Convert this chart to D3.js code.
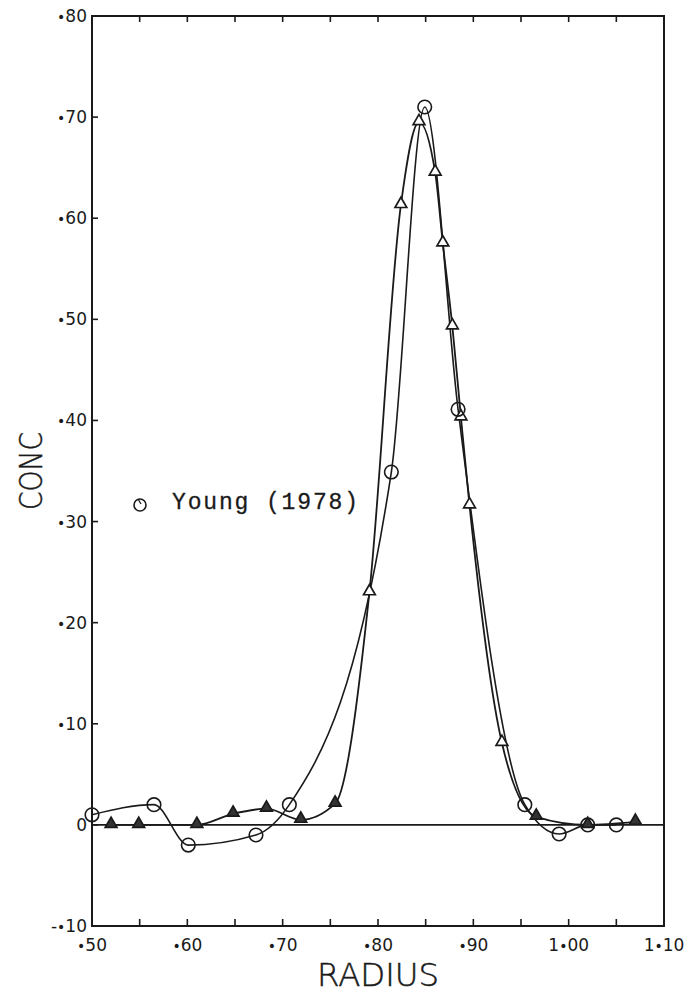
<!DOCTYPE html>
<html>
<head>
<meta charset="utf-8">
<script src="https://cdn.jsdelivr.net/npm/d3@7"></script>
<style>
  html, body { margin: 0; padding: 0; background: #fff; }
  svg { display: block; }
</style>
</head>
<body>
<svg id="chart" width="689" height="995"></svg>
<script>
// Young (1978) concentration profile (open circles)
const youngRadius = [0.500, 0.565, 0.601, 0.672, 0.707, 0.814, 0.849, 0.884, 0.954, 0.990, 1.020, 1.050];
const youngConc   = [0.010, 0.020, -0.020, -0.010, 0.020, 0.349, 0.710, 0.411, 0.020, -0.009, 0.000, 0.000];

// Computed concentration profile (triangles)
const calcRadius = [0.520, 0.549, 0.610, 0.648, 0.683, 0.719, 0.755, 0.791, 0.824, 0.843, 0.860, 0.868, 0.878, 0.887, 0.896, 0.930, 0.966, 1.020, 1.070];
const calcConc   = [0.000, 0.000, 0.000, 0.011, 0.016, 0.005, 0.021, 0.230, 0.613, 0.695, 0.645, 0.575, 0.493, 0.403, 0.316, 0.081, 0.008, 0.000, 0.003];

// Axis ticks and labels (integer part, fractional part)
const xLabelTicks = [0.5, 0.6, 0.7, 0.8, 0.9, 1.0, 1.1];
const xLabels = [["", "50"], ["", "60"], ["", "70"], ["", "80"], ["", "90"], ["1", "00"], ["1", "10"]];
const xMinorTicks = [0.55, 0.65, 0.75, 0.85, 0.95, 1.05];
const yTicks = [-0.1, 0, 0.1, 0.2, 0.3, 0.4, 0.5, 0.6, 0.7, 0.8];
const yLabels = [["-", "10"], null, ["", "10"], ["", "20"], ["", "30"], ["", "40"], ["", "50"], ["", "60"], ["", "70"], ["", "80"]];
const legendText = "Young (1978)";

const svg = d3.select("#chart");
const plotL = 92, plotR = 664, plotT = 16, plotB = 926;
const ink = "#1a1a1a";

const x = d3.scaleLinear().domain([0.5, 1.1]).range([plotL, plotR]);
const y = d3.scaleLinear().domain([-0.1, 0.8]).range([plotB, plotT]);

// Writes a plotter-style number label: integer part, centred dot, fraction
function numberLabel(sel, parts) {
  if (!parts) { sel.text("0"); return; }
  if (parts[0]) sel.append("tspan").text(parts[0]);
  sel.append("tspan").attr("font-size", 14).text("•");
  sel.append("tspan").text(parts[1]);
}

// Frame
svg.append("rect")
  .attr("x", plotL).attr("y", plotT)
  .attr("width", plotR - plotL).attr("height", plotB - plotT)
  .attr("fill", "none").attr("stroke", ink).attr("stroke-width", 2);

// Bottom ticks (pointing inward)
const allX = xLabelTicks.concat(xMinorTicks).filter(v => v > 0.5 && v < 1.1);
svg.append("g").selectAll("line").data(allX).join("line")
  .attr("x1", d => x(d)).attr("x2", d => x(d))
  .attr("y1", plotB).attr("y2", plotB - 7)
  .attr("stroke", ink).attr("stroke-width", 1.6);
// Top ticks
svg.append("g").selectAll("line").data(allX).join("line")
  .attr("x1", d => x(d)).attr("x2", d => x(d))
  .attr("y1", plotT).attr("y2", plotT + 6)
  .attr("stroke", ink).attr("stroke-width", 1.6);
// Left ticks
svg.append("g").selectAll("line").data(yTicks.filter(v => v > -0.1 && v < 0.8)).join("line")
  .attr("x1", plotL).attr("x2", plotL + 6)
  .attr("y1", d => y(d)).attr("y2", d => y(d))
  .attr("stroke", ink).attr("stroke-width", 1.6);

// X tick labels
svg.append("g").selectAll("text").data(xLabelTicks).join("text")
  .attr("x", d => x(d)).attr("y", plotB + 25)
  .attr("text-anchor", "middle")
  .attr("font-family", "DejaVu Sans").attr("font-size", 17)
  .attr("fill", ink)
  .each(function (d, i) { numberLabel(d3.select(this), xLabels[i]); });

// Y tick labels
svg.append("g").selectAll("text").data(yTicks).join("text")
  .attr("x", plotL - 5).attr("y", d => y(d) + 6)
  .attr("text-anchor", "end")
  .attr("font-family", "DejaVu Sans").attr("font-size", 17)
  .attr("fill", ink)
  .each(function (d, i) { numberLabel(d3.select(this), yLabels[i]); });

// Axis titles
svg.append("text")
  .attr("x", 378).attr("y", 986)
  .attr("text-anchor", "middle")
  .attr("font-family", "DejaVu Sans").attr("font-weight", 200)
  .attr("font-size", 32)
  .attr("textLength", 122).attr("lengthAdjust", "spacingAndGlyphs")
  .attr("fill", ink).attr("stroke", ink).attr("stroke-width", 0.5)
  .text("RADIUS");

svg.append("text")
  .attr("transform", "translate(42,471) rotate(-90)")
  .attr("text-anchor", "middle")
  .attr("font-family", "DejaVu Sans").attr("font-weight", 200)
  .attr("font-size", 32)
  .attr("textLength", 78).attr("lengthAdjust", "spacingAndGlyphs")
  .attr("fill", ink).attr("stroke", ink).attr("stroke-width", 0.5)
  .text("CONC");

// Zero line
svg.append("line")
  .attr("x1", plotL).attr("x2", plotR)
  .attr("y1", y(0)).attr("y2", y(0))
  .attr("stroke", ink).attr("stroke-width", 1.6);

const line = d3.line()
  .x(d => x(d[0])).y(d => y(d[1]))
  .curve(d3.curveMonotoneX);

const youngPts = youngRadius.map((r, i) => [r, youngConc[i]]);
const calcPts = calcRadius.map((r, i) => [r, calcConc[i]]);

svg.append("path").attr("d", line(calcPts))
  .attr("fill", "none").attr("stroke", ink).attr("stroke-width", 1.8);
svg.append("path").attr("d", line(youngPts))
  .attr("fill", "none").attr("stroke", ink).attr("stroke-width", 1.6);

// Triangle markers
const tri = d3.symbol().type(d3.symbolTriangle).size(60);
svg.append("g").selectAll("path").data(calcPts).join("path")
  .attr("d", tri)
  .attr("transform", d => `translate(${x(d[0])},${y(d[1]) - 1})`)
  .attr("fill", d => d[1] < 0.05 ? "#333" : "#fff")
  .attr("stroke", ink).attr("stroke-width", 1.7);

// Circle markers
svg.append("g").selectAll("circle").data(youngPts).join("circle")
  .attr("cx", d => x(d[0])).attr("cy", d => y(d[1]))
  .attr("r", 6.8)
  .attr("fill", "none").attr("stroke", ink).attr("stroke-width", 1.6);

// Legend
const lg = svg.append("g").attr("transform", "translate(140,505)");
lg.append("circle").attr("r", 6).attr("fill", "none").attr("stroke", ink).attr("stroke-width", 1.6);
lg.append("line").attr("x1", -2).attr("x2", 1).attr("y1", -6).attr("y2", -1)
  .attr("stroke", ink).attr("stroke-width", 1.3);
svg.append("text")
  .attr("x", 172).attr("y", 509)
  .attr("font-family", "Liberation Mono").attr("font-size", 23)
  .attr("textLength", 186).attr("lengthAdjust", "spacing")
  .attr("fill", ink).attr("stroke", ink).attr("stroke-width", 0.3)
  .text(legendText);
</script>
</body>
</html>
